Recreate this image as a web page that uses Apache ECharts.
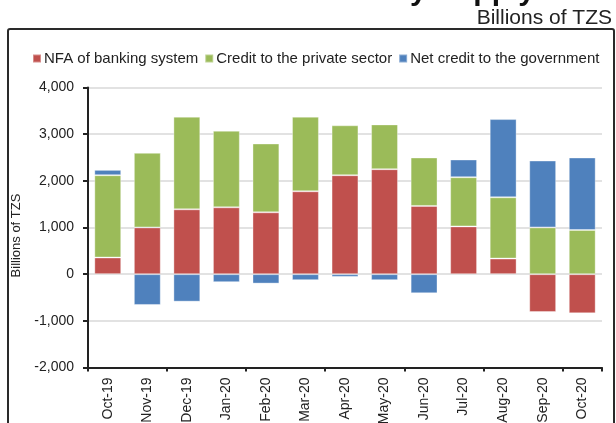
<!DOCTYPE html>
<html>
<head>
<meta charset="utf-8">
<script src="https://cdn.jsdelivr.net/npm/echarts@6/dist/echarts.min.js"></script>
<style>
  html, body { margin: 0; padding: 0; background: #fff; }
  #chart { width: 616px; height: 423px; }
</style>
</head>
<body>
<div id="chart"></div>
<script>
// Monthly contributions, billions of TZS
const months = ['Oct-19', 'Nov-19', 'Dec-19', 'Jan-20', 'Feb-20', 'Mar-20', 'Apr-20',
                'May-20', 'Jun-20', 'Jul-20', 'Aug-20', 'Sep-20', 'Oct-20'];
const nfaBanking = [357, 1002, 1389, 1432, 1325, 1776, 2120, 2249, 1462, 1024, 335, -811, -839];
const privateCredit = [1763, 1598, 1985, 1641, 1475, 1598, 1070, 960, 1038, 1053, 1312, 1002, 946];
const govCredit = [115, -660, -589, -172, -202, -129, -58, -129, -409, 380, 1676, 1433, 1554];
const yTicks = { min: -2000, max: 4000, interval: 1000 };

const font = 'Liberation Sans, Arial, sans-serif';
const chart = echarts.init(document.getElementById('chart'), null, { renderer: 'canvas' });

function barSeries(name, data, color) {
  return {
    name, type: 'bar', stack: 'total', data,
    xAxisIndex: 0,
    barCategoryGap: '32%',
    itemStyle: { color, borderColor: 'rgba(255,255,255,0.35)', borderWidth: 1 }
  };
}

chart.setOption({
  animation: false,
  backgroundColor: '#fff',
  textStyle: { fontFamily: font },
  graphic: [
    { type: 'rect', shape: { x: 8, y: 29, width: 606, height: 420, r: 2 },
      style: { fill: 'none', stroke: '#2a2a2a', lineWidth: 2 }, z: 0 },
    { type: 'text', right: 4, top: 8,
      style: { text: 'Billions of TZS', font: '21px ' + font, fill: '#222' } },
    { type: 'text', x: 535, y: 7,
      style: { text: 'Money Supply', font: 'bold 30px ' + font, fill: '#111',
               textAlign: 'right', textVerticalAlign: 'bottom' } }
  ],
  legend: {
    top: 46, left: 27,
    itemWidth: 8, itemHeight: 8, itemGap: 6,
    icon: 'rect',
    textStyle: { fontSize: 15, color: '#222', fontFamily: font, padding: [0, 0, 0, -2] },
    data: ['NFA of banking system', 'Credit to the private sector', 'Net credit to the government']
  },
  grid: { left: 88, top: 87.5, width: 514, height: 280, outerBoundsMode: 'none', containLabel: false },
  xAxis: [
    {
      type: 'category', data: months, position: 'bottom',
      axisLine: { show: false }, axisTick: { show: false },
      axisLabel: { rotate: 90, fontSize: 14, color: '#222', margin: 10, fontFamily: font }
    },
    {
      type: 'category', data: months, position: 'bottom',
      axisLine: { onZero: true, lineStyle: { color: '#222', width: 2 } },
      axisTick: { show: true, length: 4, lineStyle: { color: '#222', width: 2 } },
      axisLabel: { show: false }
    }
  ],
  yAxis: {
    type: 'value', min: yTicks.min, max: yTicks.max, interval: yTicks.interval,
    name: 'Billions of TZS', nameLocation: 'middle', nameGap: 59,
    nameTextStyle: { fontSize: 13, color: '#222', fontFamily: font, padding: [0, 16, 0, 0] },
    axisLine: { show: true, lineStyle: { color: '#222', width: 2 } },
    axisTick: { show: true, inside: false, length: 5, lineStyle: { color: '#222', width: 2 } },
    axisLabel: { fontSize: 14, color: '#222', margin: 14, fontFamily: font,
                 formatter: v => v.toLocaleString('en-US') },
    splitLine: { show: true, lineStyle: { color: '#e2e2e2', width: 2 } }
  },
  series: [
    barSeries('NFA of banking system', nfaBanking, '#C0504D'),
    barSeries('Credit to the private sector', privateCredit, '#9BBB59'),
    barSeries('Net credit to the government', govCredit, '#4F81BD')
  ]
});
</script>
</body>
</html>
